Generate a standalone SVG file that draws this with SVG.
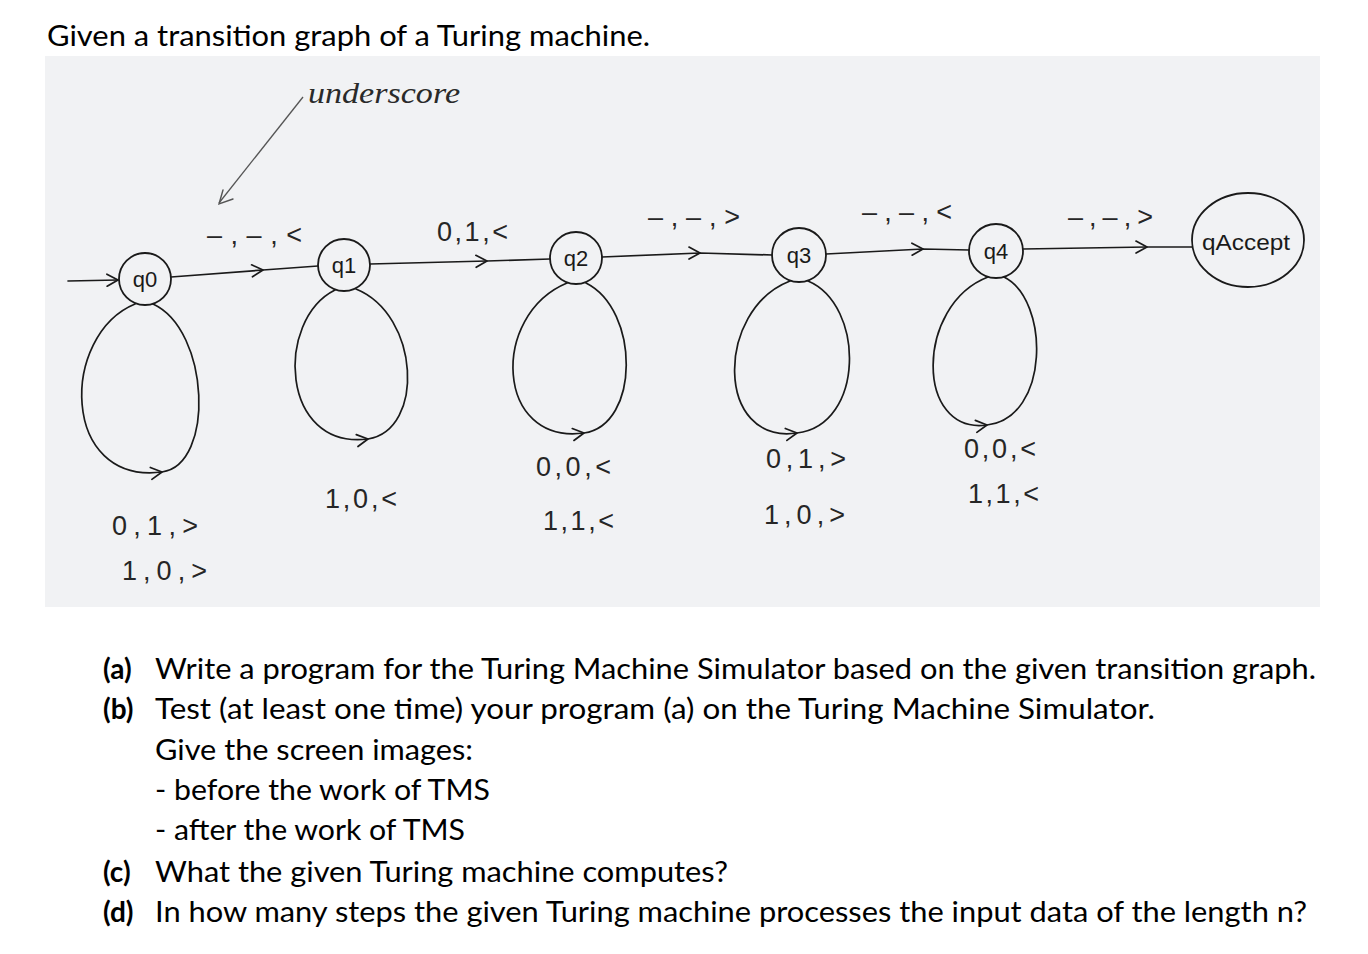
<svg xmlns="http://www.w3.org/2000/svg" width="1368" height="954" viewBox="0 0 1368 954">
  <defs>
    <marker id="chev" viewBox="0 0 14 14" refX="12" refY="7" markerWidth="14" markerHeight="14" markerUnits="userSpaceOnUse" orient="auto" overflow="visible">
      <path d="M1,1 L12,7 L1,13" fill="none" stroke="#1a1a1a" stroke-width="1.7" stroke-linecap="round" stroke-linejoin="round"/>
    </marker>
  </defs>
  <style>
    .typed { font-family: Lato, "Open Sans", "Liberation Sans", sans-serif; font-size: 28px; fill: #000; }
    .bold { font-weight: bold; }
    .hand { font-family: "Liberation Sans", "DejaVu Sans", sans-serif; font-size: 27px; fill: #262626; }
    .qlab { font-family: "Liberation Sans", "DejaVu Sans", sans-serif; font-size: 22px; fill: #1a1a1a; text-anchor: middle; }
    .node { fill: none; stroke: #1a1a1a; stroke-width: 1.8; }
    .edge { fill: none; stroke: #1a1a1a; stroke-width: 1.7; stroke-linecap: round; }
    .mid { marker-mid: url(#chev); }
  </style>

  <rect x="0" y="0" width="1368" height="954" fill="#ffffff"/>
  <rect x="45" y="56" width="1275" height="551" fill="#f1f2f4"/>

  <text class="typed" x="47" y="46" textLength="603" lengthAdjust="spacingAndGlyphs">Given a transition graph of a Turing machine.</text>

  <!-- annotation -->
  <g id="annotation">
    <text x="308" y="103" font-family="Liberation Serif, serif" font-style="italic" font-size="30" fill="#2a2a2a" textLength="152" lengthAdjust="spacingAndGlyphs">underscore</text>
    <path d="M303,97 L219,203" fill="none" stroke="#555" stroke-width="1.3"/>
    <path d="M233,199 L219,204 L223,190" fill="none" stroke="#555" stroke-width="1.4" stroke-linecap="round"/>
  </g>

  <!-- connectors -->
  <g id="connectors">
    <path class="edge" d="M68,281 L118,280" marker-end="url(#chev)"/>
    <polyline class="edge mid" points="171,277 263,270 318,266"/>
    <polyline class="edge mid" points="370,264 487,261 550,259"/>
    <polyline class="edge mid" points="602,257 700,253 772,255"/>
    <polyline class="edge mid" points="826,254 923,249 969,250"/>
    <polyline class="edge mid" points="1023,249 1147,247 1192,247"/>

    <path class="edge mid" d="M135,304 C60,335 60,485 162,472 C215,465 210,330 153,304"/>
    <path class="edge mid" d="M335,290 C275,320 280,450 368,439 C425,430 420,315 356,289"/>
    <path class="edge mid" d="M567,283 C490,315 495,445 584,433 C640,425 640,310 586,283"/>
    <path class="edge mid" d="M790,281 C715,310 715,445 797,433 C865,425 865,305 808,281"/>
    <path class="edge mid" d="M988,277 C915,305 915,435 987,425 C1050,418 1050,300 1004,277"/>

    <text class="hand" x="207" y="244" textLength="95" lengthAdjust="spacing">–,–,&lt;</text>
    <text class="hand" x="437" y="241" textLength="71" lengthAdjust="spacing">0,1,&lt;</text>
    <text class="hand" x="648" y="226" textLength="92" lengthAdjust="spacing">–,–,&gt;</text>
    <text class="hand" x="862" y="221" textLength="90" lengthAdjust="spacing">–,–,&lt;</text>
    <text class="hand" x="1068" y="226" textLength="85" lengthAdjust="spacing">–,–,&gt;</text>

    <text class="hand" x="112" y="535" textLength="86" lengthAdjust="spacing">0,1,&gt;</text>
    <text class="hand" x="122" y="580" textLength="85" lengthAdjust="spacing">1,0,&gt;</text>
    <text class="hand" x="325" y="508" textLength="72" lengthAdjust="spacing">1,0,&lt;</text>
    <text class="hand" x="536" y="476" textLength="75" lengthAdjust="spacing">0,0,&lt;</text>
    <text class="hand" x="543" y="530" textLength="71" lengthAdjust="spacing">1,1,&lt;</text>
    <text class="hand" x="766" y="468" textLength="80" lengthAdjust="spacing">0,1,&gt;</text>
    <text class="hand" x="764" y="524" textLength="81" lengthAdjust="spacing">1,0,&gt;</text>
    <text class="hand" x="964" y="458" textLength="72" lengthAdjust="spacing">0,0,&lt;</text>
    <text class="hand" x="968" y="503" textLength="71" lengthAdjust="spacing">1,1,&lt;</text>
  </g>

  <!-- nodes -->
  <g id="q0"><circle class="node" cx="145" cy="279" r="26"/><text class="qlab" x="145" y="287">q0</text></g>
  <g id="q1"><circle class="node" cx="344" cy="265" r="26"/><text class="qlab" x="344" y="273">q1</text></g>
  <g id="q2"><circle class="node" cx="576" cy="258" r="26"/><text class="qlab" x="576" y="266">q2</text></g>
  <g id="q3"><circle class="node" cx="799" cy="255" r="27"/><text class="qlab" x="799" y="263">q3</text></g>
  <g id="q4"><circle class="node" cx="996" cy="251" r="27"/><text class="qlab" x="996" y="259">q4</text></g>
  <g id="qAccept"><ellipse class="node" cx="1248" cy="240" rx="56" ry="47"/><text class="qlab" x="1246" y="250" font-size="26" textLength="88" lengthAdjust="spacingAndGlyphs">qAccept</text></g>

  <!-- questions -->
  <g id="questions">
    <text class="typed bold" x="103" y="679">(a)</text>
    <text class="typed" x="155" y="679" textLength="1161" lengthAdjust="spacingAndGlyphs">Write a program for the Turing Machine Simulator based on the given transition graph.</text>
    <text class="typed bold" x="103" y="719">(b)</text>
    <text class="typed" x="155" y="719" textLength="1000" lengthAdjust="spacingAndGlyphs">Test (at least one time) your program (a) on the Turing Machine Simulator.</text>
    <text class="typed" x="155" y="760" textLength="318" lengthAdjust="spacingAndGlyphs">Give the screen images:</text>
    <text class="typed" x="155" y="800" textLength="335" lengthAdjust="spacingAndGlyphs">- before the work of TMS</text>
    <text class="typed" x="155" y="840" textLength="310" lengthAdjust="spacingAndGlyphs">- after the work of TMS</text>
    <text class="typed bold" x="103" y="882">(c)</text>
    <text class="typed" x="155" y="882" textLength="573" lengthAdjust="spacingAndGlyphs">What the given Turing machine computes?</text>
    <text class="typed bold" x="103" y="922">(d)</text>
    <text class="typed" x="155" y="922" textLength="1152" lengthAdjust="spacingAndGlyphs">In how many steps the given Turing machine processes the input data of the length n?</text>
  </g>
</svg>
